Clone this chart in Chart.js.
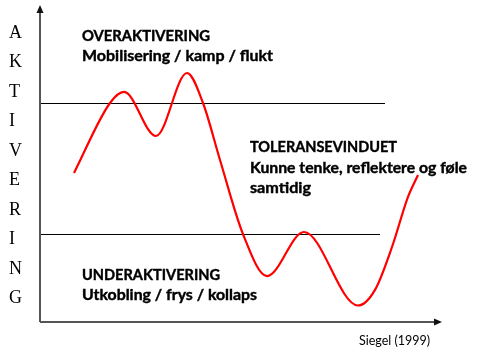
<!DOCTYPE html>
<html>
<head>
<meta charset="utf-8">
<script src="https://cdn.jsdelivr.net/npm/chart.js@4"></script>
<style>
    html, body { margin: 0; padding: 0; background: #fff; }
    #wrap { width: 479px; height: 354px; }
</style>
</head>
<body>
<div id="wrap"><canvas id="graph"></canvas></div>
<script>
// aktivering over tid (0-100 begge akser)
const curveX = [8.5, 17.5, 21, 29, 36.75, 40.75, 45, 50.75, 56.75, 66, 79.5, 83.75, 88, 92, 94.5];
const curveY = [49.7, 73, 76.7, 62, 83, 73, 54, 29.3, 15.3, 30, 5.5, 10.7, 25, 41.7, 49];

// grensene for toleransevinduet
const upperLimit = 72.83;
const upperLimitEnd = 86.25;
const lowerLimit = 29.17;
const lowerLimitEnd = 85;

const axisLetters = ['A', 'K', 'T', 'I', 'V', 'E', 'R', 'I', 'N', 'G'];
const overText = ['OVERAKTIVERING', 'Mobilisering / kamp / flukt'];
const windowText = ['TOLERANSEVINDUET', 'Kunne tenke, reflektere og føle', 'samtidig'];
const underText = ['UNDERAKTIVERING', 'Utkobling / frys / kollaps'];
const source = 'Siegel (1999)';

const canvas = document.getElementById('graph');

function toPoints(xs, ys) {
    return xs.map((x, i) => ({ x: x, y: ys[i] }));
}

// Calibri finnes ikke, så hver linje tilpasses bredden i originalen
function drawText(ctx, text, x, y, width) {
    const stretch = width / ctx.measureText(text).width;
    ctx.save();
    ctx.translate(x, y);
    ctx.scale(stretch, 1);
    ctx.fillText(text, 0, 0);
    ctx.strokeText(text, 0, 0);
    ctx.restore();
}

const decor = {
    id: 'decor',
    afterDraw(chart) {
        const ctx = chart.ctx;
        const xs = chart.scales.x;
        const ys = chart.scales.y;
        const x0 = xs.getPixelForValue(0);
        const y0 = ys.getPixelForValue(0);
        const top = ys.getPixelForValue(105) - 2;
        const right = xs.getPixelForValue(100) + 2;

        ctx.save();
        // akser
        ctx.strokeStyle = '#555555';
        ctx.lineWidth = 2;
        ctx.beginPath();
        ctx.moveTo(x0, y0);
        ctx.lineTo(x0, top + 6);
        ctx.moveTo(x0, y0);
        ctx.lineTo(right - 6, y0);
        ctx.stroke();
        ctx.fillStyle = '#111';
        ctx.beginPath();
        ctx.moveTo(x0, top);
        ctx.lineTo(x0 - 3.5, top + 8);
        ctx.lineTo(x0 + 3.5, top + 8);
        ctx.closePath();
        ctx.fill();
        ctx.beginPath();
        ctx.moveTo(right, y0);
        ctx.lineTo(right - 8, y0 - 3.5);
        ctx.lineTo(right - 8, y0 + 3.5);
        ctx.closePath();
        ctx.fill();

        // loddrett tittel
        ctx.fillStyle = '#000';
        ctx.strokeStyle = '#000';
        ctx.font = '18px "Liberation Serif"';
        ctx.textBaseline = 'middle';
        ctx.textAlign = 'left';
        axisLetters.forEach((l, i) => {
            ctx.fillText(l, 9, 33 + i * 29.5);
        });

        // tekstblokker
        ctx.textBaseline = 'alphabetic';
        ctx.font = 'bold 14.5px Lato';
        ctx.lineWidth = 0.4;
        const overW = [128, 191];
        const windowW = [147, 217, 61];
        const underW = [138, 175];
        overText.forEach((t, i) => drawText(ctx, t, 82, 41 + i * 19.5, overW[i]));
        windowText.forEach((t, i) => drawText(ctx, t, 250, 152 + i * 20.5, windowW[i]));
        underText.forEach((t, i) => drawText(ctx, t, 82, 280 + i * 20, underW[i]));

        ctx.font = '12.5px Lato';
        ctx.fillText(source, 359, 345);
        ctx.restore();
    }
};

new Chart(canvas, {
    type: 'line',
    data: {
        datasets: [{
            data: toPoints(curveX, curveY),
            borderColor: '#ff0000',
            borderWidth: 2.2,
            pointRadius: 0,
            fill: false,
            cubicInterpolationMode: 'monotone'
        }, {
            data: [{ x: 0, y: upperLimit }, { x: upperLimitEnd, y: upperLimit }],
            borderColor: '#000',
            borderWidth: 1,
            pointRadius: 0
        }, {
            data: [{ x: 0, y: lowerLimit }, { x: lowerLimitEnd, y: lowerLimit }],
            borderColor: '#000',
            borderWidth: 1,
            pointRadius: 0
        }]
    },
    options: {
        responsive: true,
        maintainAspectRatio: false,
        animation: false,
        layout: { padding: { left: 40, right: 39, top: 7, bottom: 32 } },
        plugins: { legend: { display: false }, tooltip: { enabled: false } },
        scales: {
            x: { type: 'linear', min: 0, max: 100, display: false },
            y: { type: 'linear', min: 0, max: 105, display: false }
        }
    },
    plugins: [decor]
});
</script>
</body>
</html>
